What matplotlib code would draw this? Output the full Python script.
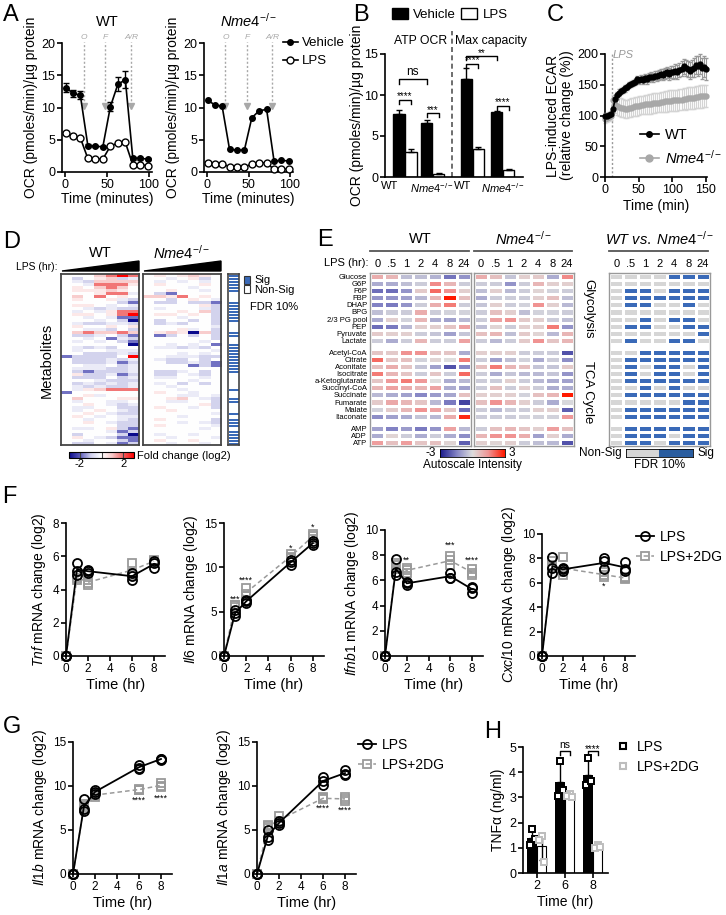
import numpy as np
import matplotlib
matplotlib.use("Agg")
import matplotlib.pyplot as plt
from matplotlib.colors import LinearSegmentedColormap, ListedColormap
from matplotlib.patches import Polygon, Rectangle, Patch
from matplotlib.lines import Line2D

plt.rcParams["font.family"] = ["Liberation Sans", "DejaVu Sans"]
plt.rcParams["mathtext.fontset"] = "custom"
plt.rcParams["mathtext.rm"] = "Liberation Sans"
plt.rcParams["mathtext.it"] = "Liberation Sans:italic"

W, H = 726, 915
KO = r"$\it{Nme4}^{-/-}$"

# ============================================================
# DATA
# ============================================================
# A: Seahorse OCR trace
ocr_time = [1, 9, 18, 27, 36, 45, 54, 63, 72, 81, 90, 99]
inject_time = [22, 48, 79]
inject_lbl = ["O", "F", "A/R"]
wt_veh = [13.1, 12.2, 11.9, 4.1, 4.0, 3.9, 10.1, 13.6, 14.3, 2.1, 2.1, 2.0]
wt_veh_err = [0.7, 0.5, 0.6, 0.2, 0.2, 0.2, 0.7, 1.1, 1.3, 0.2, 0.2, 0.1]
wt_lps = [6.0, 5.6, 5.3, 2.1, 2.0, 2.0, 4.0, 4.5, 4.6, 1.1, 1.1, 1.0]
ko_veh = [11.1, 10.4, 10.2, 3.5, 3.4, 3.4, 8.4, 9.5, 9.7, 1.7, 1.8, 1.7]
ko_lps = [1.4, 1.3, 1.3, 0.8, 0.7, 0.7, 1.3, 1.4, 1.4, 0.4, 0.5, 0.4]

# B: ATP OCR / max capacity
b_groups = ["WT", KO, "WT", KO]
b_veh = [7.7, 6.6, 12.0, 7.9]
b_veh_err = [0.5, 0.3, 1.3, 0.2]
b_lps = [3.1, 0.4, 3.4, 0.9]
b_lps_err = [0.3, 0.1, 0.3, 0.1]

# C: LPS-induced ECAR
ecar_time = np.arange(0, 151, 3)
ecar_wt = [100, 100, 101, 103, 110, 127, 133, 137, 140, 142,
           144, 146, 150, 151, 153, 155, 159, 157, 160, 158,
           161, 159, 162, 163, 162, 165, 164, 166, 168, 166,
           169, 170, 168, 171, 170, 172, 171, 174, 176, 180,
           177, 175, 173, 176, 178, 182, 180, 184, 177, 179, 176]
ecar_wt_err = [4, 4, 4, 4, 5, 6, 6, 6, 5, 5,
               5, 5, 5, 5, 5, 5, 6, 6, 6, 6,
               6, 7, 7, 7, 7, 8, 8, 8, 8, 9,
               9, 9, 10, 10, 10, 11, 11, 12, 12, 12,
               13, 13, 14, 14, 15, 15, 16, 16, 17, 17, 18]
ecar_ko = [94, 96, 97, 99, 125, 118, 116, 114, 113, 112,
           111, 111, 112, 113, 114, 115, 115, 116, 117, 117,
           118, 118, 119, 119, 120, 120, 121, 121, 122, 122,
           123, 123, 124, 124, 125, 125, 125, 126, 126, 127,
           127, 128, 128, 129, 129, 130, 130, 131, 131, 132, 132]
ecar_ko_err = [6, 6, 6, 6, 8, 14, 15, 15, 15, 15,
               15, 15, 15, 15, 15, 15, 15, 15, 15, 15,
               16, 16, 16, 16, 16, 16, 16, 16, 16, 16,
               17, 17, 17, 17, 17, 17, 17, 17, 17, 17,
               18, 18, 18, 18, 18, 18, 18, 18, 18, 18, 18]

# D: metabolite fold change heatmap (WT | Nme4), level codes
d_code = {"N": -3, "B": -1.8, "b": -0.9, "c": -0.4, ".": 0,
          "p": 0.4, "r": 0.9, "R": 1.8, "X": 3}
d_rows = [
    "...rRXR|.p.prp.", ".b.prbc|..c.pb.", ".cbrrrr|.c.c.c.", "..cRRRp|.p...p.",
    ".p.rRr.|....c..", ".ppprp.|..p..c.", "...pRRc|.bB....", ".r.R.p.|rrpR.p.",
    ".p..pcb|..b.p.c", ".....bB|.bb.bbB", ".pp.c.c|.....pb", "..cbcbb|.c...cb",
    ".c.cpRR|...p.rb", ".pp.pRX|.pp.p.b", "..c.cBB|...c..b", "...c.bN|.b..b.b",
    ".cbbccb|.bcb..b", ".p..p.p|......c", "..ccb.b|...pc.b", ".rRrrRr|.prpNrb",
    ".bbc.bB|.Bb.b.b", "..c.Bcb|......b", ".c.c.bB|.....c.", "......N|..c.c.B",
    ".cbcb..|.ccbcb.", ".c..ccc|......c", "..bbbcb|...c.c.", "Bbbbb.X|..cccbb",
    ".bbbcbc|.cbb.b.", ".bbbcBb|..bbcbB", "..cc.bc|....BbB", ".cccbbc|.......",
    ".bBbbbc|.bbc.b.", ".pbbcBb|.bb.cb.", ".bbb.bc|.cc..c.", "...cbbb|....c..",
    ".bcbcbc|.c.b.b.", ".cbcbbc|..c....", ".cprRRR|...c...", "B......|.p..c..",
    "..pc...|...cc.c", ".r...pp|..pr.cb", ".c..cc.|..cc..b", "..p.cbc|.....pb",
    ".cc..bb|.p..c.b", ".c.p.cb|..p....", "..p.cbb|......c", ".p.c.cc|...c...",
    "..c..cb|.p....b", "..p.cbb|...c.cb", ".....bb|.p....c", ".cc.pbB|.....c.",
    "....cBb|.......", ".b...bN|.c..c..", ".p.cbBB|..c...c", "..c..bB|.p..p..",
    ".bb.cBb|..c..c.",
]
d_sig = "111111000111111100011001111111111000001001100010111011111"

# E: targeted metabolites (autoscaled)
e_names = ["Glucose", "G6P", "F6P", "FBP", "DHAP", "BPG", "2/3 PG pool", "PEP",
           "Pyruvate", "Lactate",
           "Acetyl-CoA", "Citrate", "Aconitate", "Isocitrate", "a-Ketoglutarate",
           "Succinyl-CoA", "Succinate", "Fumarate", "Malate", "Itaconate",
           "AMP", "ADP", "ATP"]
e_groups = [10, 10, 3]
e_hours = ["0", ".5", "1", "2", "4", "8", "24"]
e_wt = [
    [1.0, 0.8, -0.5, -0.5, -0.7, -1.7, -1.2],
    [-0.8, -0.8, -0.5, -0.3, 1.6, 0.8, -0.3],
    [-1.8, -1.8, -1.2, 0.4, 2.0, 1.5, 0.3],
    [-1.2, -1.2, -1.0, -0.6, 0.8, 3.0, 0.6],
    [-1.5, -1.6, -1.2, -0.3, 1.0, 1.8, -0.3],
    [-0.5, -0.3, -0.3, 1.0, -0.3, -0.2, -0.2],
    [-0.8, 0.3, -0.2, 0.8, -0.8, -1.0, -0.6],
    [-1.8, -1.6, -0.6, 0.3, 0.3, 0.5, 1.2],
    [0.4, 0.3, 0.3, -0.3, -0.4, -1.0, -0.4],
    [-0.3, -0.8, -0.3, 0.8, -0.3, -0.3, 1.2],
    [0.5, 0.4, 1.5, 1.5, 0.5, 0.5, -0.8],
    [2.0, 0.5, 0.6, -0.2, 0.2, 0.0, 1.8],
    [0.6, 1.0, 0.5, -0.4, -1.0, -2.2, -1.4],
    [1.8, 0.8, 0.5, -0.3, 0.5, -0.3, 2.0],
    [0.5, 1.4, 1.8, 1.4, 0.0, -0.8, -0.6],
    [0.8, 1.2, 1.0, 0.8, 1.2, -0.8, -1.0],
    [-0.6, -0.8, -1.0, -1.4, -1.1, -0.9, 0.6],
    [0.4, 1.1, 0.8, 0.5, -0.6, -1.6, -2.4],
    [-0.2, 0.4, 0.8, 1.5, 1.2, 0.5, -1.8],
    [-1.3, -1.0, -0.8, -0.4, -0.6, 1.0, 2.8],
    [-1.0, -1.5, -1.1, -1.6, -1.2, 1.2, -0.6],
    [-0.8, 0.2, -0.3, -0.8, -0.3, -0.8, -1.3],
    [1.3, 0.6, 1.3, 0.5, 0.6, 0.2, -2.0],
]
e_ko = [
    [1.0, 0.6, -0.4, 0.3, 0.4, -0.8, 1.6],
    [-0.3, -0.3, -1.2, -0.3, 0.8, 0.3, 0.3],
    [-0.5, 0.3, -0.6, -0.3, 0.2, -0.2, -0.3],
    [-0.8, -0.3, -0.3, -0.3, 0.3, 0.6, -0.5],
    [-0.4, 0.3, -0.3, -0.2, 1.5, 0.3, -0.6],
    [-0.3, 0.6, 0.3, -0.5, -0.2, -0.2, -0.3],
    [-0.3, 1.2, 1.5, 0.4, 0.3, -0.3, -0.5],
    [-0.5, 0.2, -0.3, 0.3, 0.3, 1.8, -1.2],
    [0.6, 0.8, -0.5, 0.4, 0.2, -0.6, 0.8],
    [-0.3, -0.6, -0.3, 0.4, 1.5, 0.5, 0.8],
    [0.3, 0.3, 0.3, -0.3, -0.3, -0.3, -2.2],
    [-0.3, -1.0, -0.5, -0.2, -0.8, -0.3, -1.3],
    [0.6, 1.8, 0.8, 0.6, -0.4, -0.4, 0.4],
    [-0.3, -0.8, -0.4, -0.6, -0.6, -0.4, -1.2],
    [-0.3, -0.3, 0.3, -0.3, -0.6, -0.8, -1.0],
    [-0.3, 0.6, -0.3, 0.3, -0.3, -0.8, -0.8],
    [0.3, 0.3, 0.3, -0.2, 0.6, 0.8, 3.0],
    [0.6, 1.5, 0.8, 0.3, -0.3, -0.8, -0.1],
    [-0.3, -0.6, -0.3, -0.3, 0.3, 0.3, -2.0],
    [-0.3, -0.3, -0.3, -0.2, -0.2, -0.2, 1.4],
    [-0.3, 0.6, 0.8, 0.5, 0.3, 1.3, 0.6],
    [0.8, 1.5, 1.5, 1.0, -1.0, 0.3, -0.8],
    [0.3, 0.2, 0.3, -0.3, -0.5, -0.6, -2.2],
]
e_sig = [
    "0000111", "0000000", "0110111", "0111111", "0110010",
    "0000000", "0010110", "0110011", "0000001", "0100110",
    "0011111", "0111111", "0101101", "0101101", "0111111",
    "0010100", "0111111", "0000011", "0111111", "0111111",
    "0111111", "0111011", "0110111",
]

# F / G: qPCR, 3 replicates per time point
qt = [0, 1, 2, 6, 8]
tnf_lps = [[0, 0, 0], [5.6, 5.1, 4.9], [5.2, 5.0, 5.1], [5.0, 4.8, 4.6], [5.7, 5.6, 5.3]]
tnf_dg = [[0, 0, 0], [4.6, 4.7, 4.9], [4.6, 4.4, 4.3], [5.6, 5.0, 4.9], [5.8, 5.7, 5.6]]
il6_lps = [[0, 0, 0], [4.5, 4.8, 5.2], [6.0, 6.2, 6.3], [10.3, 10.6, 10.8], [12.5, 12.7, 13.0]]
il6_dg = [[0, 0, 0], [5.7, 5.8, 5.5], [7.7, 7.0, 6.8], [11.5, 11.2, 11.0], [13.8, 13.5, 13.2]]
ifnb_lps = [[0, 0, 0], [7.7, 6.7, 6.4], [5.9, 5.8, 5.6], [6.6, 6.2, 6.2], [5.5, 5.4, 5.0]]
ifnb_dg = [[0, 0, 0], [7.4, 7.2, 6.9], [7.0, 6.6, 6.8], [7.9, 7.6, 7.2], [6.9, 6.6, 6.4]]
cxcl_lps = [[0, 0, 0], [8.1, 7.2, 6.8], [7.2, 7.0, 7.1], [8.0, 7.8, 7.1], [7.7, 7.1, 7.0]]
cxcl_dg = [[0, 0, 0], [7.8, 7.5, 7.3], [8.1, 6.9, 6.6], [6.9, 6.6, 6.5], [6.5, 6.3, 6.4]]
il1b_lps = [[0, 0, 0], [8.5, 7.4, 7.2], [9.6, 9.3, 9.1], [12.4, 12.1, 11.9], [13.1, 13.0, 13.1]]
il1b_dg = [[0, 0, 0], [7.7, 7.5, 7.9], [8.7, 9.0, 9.2], [9.5, 9.7, 9.6], [10.3, 10.0, 9.9]]
il1a_lps = [[0, 0, 0], [5.0, 4.2, 3.9], [6.0, 5.8, 5.6], [11.0, 10.6, 10.1], [11.8, 11.4, 11.2]]
il1a_dg = [[0, 0, 0], [5.6, 5.4, 5.2], [6.6, 6.0, 5.8], [8.7, 8.6, 8.5], [8.8, 8.3, 8.5]]
il6_stars = [(1, 6.4, "***"), (2, 8.6, "****"), (6, 12.2, "*"), (8, 14.5, "*")]
ifnb_stars = [(2, 7.6, "**"), (6, 8.8, "***"), (8, 7.6, "****")]
cxcl_stars = [(6, 5.7, "*")]
il1b_stars = [(6, 8.4, "****"), (8, 8.6, "****")]
il1a_stars = [(6, 7.5, "****"), (8, 7.3, "****")]

# H: TNFa ELISA
h_time = ["2", "6", "8"]
h_lps = [[1.75, 1.1, 1.35], [4.45, 3.05, 3.3], [4.55, 3.5, 3.65]]
h_dg = [[1.45, 1.3, 0.45], [3.15, 3.05, 3.0], [1.1, 1.0, 1.05]]

# ============================================================
# FIGURE
# ============================================================
fig = plt.figure(figsize=(W / 100, H / 100), dpi=100)
ov = fig.add_axes([0, 0, 1, 1])
ov.set_xlim(0, W)
ov.set_ylim(H, 0)
ov.axis("off")


def box(l, t, r, b):
    return fig.add_axes([l / W, 1 - b / H, (r - l) / W, (b - t) / H])


def prism(ax, labelsize=9):
    for s in ["top", "right"]:
        ax.spines[s].set_visible(False)
    for s in ["left", "bottom"]:
        ax.spines[s].set_linewidth(1.2)
    ax.tick_params(width=1.2, length=3.5, labelsize=labelsize, pad=1.5)


def fig_legend(ax, handles, labels, x, y, **kw):
    opts = dict(loc="upper left", bbox_to_anchor=(x / W, 1 - y / H),
                bbox_transform=fig.transFigure, frameon=False, fontsize=10,
                handlelength=1.3, handletextpad=0.4, labelspacing=0.45,
                borderpad=0, borderaxespad=0)
    opts.update(kw)
    ax.legend(handles, labels, **opts)


for lbl, x, y in [("A", 3, 15), ("B", 353, 15), ("C", 547, 15), ("D", 3, 242),
                  ("E", 317, 240), ("F", 2, 497), ("G", 3, 727), ("H", 484, 732)]:
    ov.text(x, y, lbl, fontsize=17, ha="left", va="center")

# ---------------- A ----------------
for (l, r), veh, lps, err, title in [((62, 152), wt_veh, wt_lps, wt_veh_err, "WT"),
                                     ((204, 293), ko_veh, ko_lps, None, KO)]:
    ax = box(l, 43, r, 172)
    prism(ax)
    ax.errorbar(ocr_time, veh, yerr=err, fmt="o-", color="k", ms=4, lw=1.2,
                capsize=2.5, elinewidth=1, clip_on=False, zorder=3)
    ax.plot(ocr_time, lps, "o-", color="k", mfc="white", ms=5, lw=1.2,
            clip_on=False, zorder=3)
    for t, s in zip(inject_time, inject_lbl):
        ax.plot([t, t], [10.4, 20.2], ls=(0, (1.5, 1.5)), color="#a8a8a8", lw=1,
                clip_on=False)
        ax.plot([t], [10.2], marker="v", color="#a8a8a8", ms=5, clip_on=False)
        ax.text(t, 20.9, s, fontsize=6, color="#a8a8a8", style="italic",
                ha="center", va="center")
    ax.set_xlim(-4, 104)
    ax.set_ylim(0, 20)
    ax.set_xticks([0, 50, 100])
    ax.set_yticks([0, 5, 10, 15, 20])
    ax.set_xlabel("Time (minutes)", fontsize=10, labelpad=1)
    ax.set_ylabel("OCR (pmoles/min)/µg protein", fontsize=10, labelpad=2)
    ax.set_title(title, fontsize=10.5, pad=12)
    if title == KO:
        fig_legend(ax, [Line2D([], [], color="k", marker="o", ms=4, lw=1.2),
                        Line2D([], [], color="k", marker="o", mfc="white", ms=5, lw=1.2)],
                   ["Vehicle", "LPS"], 283, 37, fontsize=9.5, handlelength=1.1,
                   handletextpad=0.3)

# ---------------- B ----------------
ax = box(385, 54, 523, 177)
prism(ax)
gx = np.array([0, 1, 2.45, 3.55])
bw = 0.42
ax.bar(gx - 0.22, b_veh, bw, color="k", edgecolor="k", lw=1,
       yerr=[[0] * 4, b_veh_err], capsize=2.5, error_kw=dict(lw=1, capthick=1))
ax.bar(gx + 0.22, b_lps, bw, color="white", edgecolor="k", lw=1,
       yerr=[[0] * 4, b_lps_err], capsize=2.5, error_kw=dict(lw=1, capthick=1))


def bracket(ax, x1, x2, y, text, h=0.5, fs=7, dy=0.15):
    ax.plot([x1, x1, x2, x2], [y - h, y, y, y - h], color="k", lw=1, clip_on=False)
    ax.text((x1 + x2) / 2, y + dy, text, ha="center", va="bottom", fontsize=fs)


bracket(ax, gx[0] - 0.22, gx[0] + 0.22, 9.4, "****", dy=-0.2)
bracket(ax, gx[1] - 0.22, gx[1] + 0.22, 7.8, "***", dy=-0.2)
bracket(ax, gx[0] - 0.22, gx[1] - 0.22, 12.0, "ns", h=0.6, fs=8.5, dy=0.1)
bracket(ax, gx[2] - 0.22, gx[2] + 0.22, 13.8, "****", dy=-0.2)
bracket(ax, gx[2] - 0.22, gx[3] - 0.22, 14.7, "**", h=0.4, dy=-0.2)
bracket(ax, gx[3] - 0.22, gx[3] + 0.22, 8.7, "****", dy=-0.2)
ax.plot([1.71, 1.71], [0, 17.8], ls=(0, (3, 2)), color="#555", lw=1.2, clip_on=False)
ax.text(0.55, 16.6, "ATP OCR", ha="center", va="center", fontsize=8.8)
ax.text(3.12, 16.6, "Max capacity", ha="center", va="center", fontsize=8.8)
ax.set_xlim(-0.73, 4.29)
ax.set_ylim(0, 15)
# tick labels sit slightly off each group centre so that they do not collide
ax.set_xticks(gx + np.array([-0.55, -0.02, -0.35, 0.0]))
ax.set_xticklabels(b_groups, fontsize=8)
ax.tick_params(axis="x", length=0, pad=3)
ax.set_yticks([0, 5, 10, 15])
ax.set_ylabel("OCR (pmoles/min)/µg protein", fontsize=10, labelpad=0)
fig_legend(ax, [Patch(fc="k", ec="k"), Patch(fc="white", ec="k")],
           ["Vehicle", "LPS"], 392, 8, ncol=2, handlelength=1.2, handleheight=0.9,
           columnspacing=0.4, fontsize=9.5)

# ---------------- C ----------------
ax = box(605, 54, 707, 177)
prism(ax)
ax.errorbar(ecar_time, ecar_ko, yerr=ecar_ko_err, fmt="o-", color="#a8a8a8",
            ecolor="#d4d4d4", ms=3.5, lw=1.2, elinewidth=0.8, capsize=1.5,
            clip_on=False, zorder=2)
ax.errorbar(ecar_time, ecar_wt, yerr=ecar_wt_err, fmt="o-", color="k",
            ecolor="#999", ms=3.5, lw=1.2, elinewidth=0.8, capsize=1.5,
            clip_on=False, zorder=3)
ax.axvline(10, ls=(0, (1.5, 1.5)), color="#999", lw=1)
ax.text(11, 199, "LPS", fontsize=8, color="#999", style="italic", va="center")
ax.set_xlim(0, 152)
ax.set_ylim(0, 200)
ax.set_xticks([0, 50, 100, 150])
ax.set_yticks([0, 50, 100, 150, 200])
ax.set_xlabel("Time (min)", fontsize=10, labelpad=2)
ax.set_ylabel("LPS-induced ECAR\n(relative change (%))", fontsize=10,
              labelpad=2, linespacing=1.0)
fig_legend(ax, [Line2D([], [], color="k", marker="o", ms=4, lw=1.2),
                Line2D([], [], color="#a8a8a8", marker="o", ms=5, lw=1.2)],
           ["WT", KO], 640, 128, fontsize=10.5)

# ---------------- D ----------------
cmap_d = LinearSegmentedColormap.from_list(
    "fc", ["#0a0a8c", "#5a5ab8", "#cfcfec", "#ffffff", "#f8c8c8", "#f06262", "#ff0000"])
d_wt = np.array([[d_code[c] for c in r.split("|")[0]] for r in d_rows])
d_ko = np.array([[d_code[c] for c in r.split("|")[1]] for r in d_rows])
for (l, r), mat, name in [((61, 139), d_wt, "WT"), ((143, 221), d_ko, KO)]:
    ax = box(l, 274, r, 445)
    im = ax.imshow(mat, aspect="auto", cmap=cmap_d, vmin=-3, vmax=3,
                   interpolation="nearest")
    ax.set_xticks([])
    ax.set_yticks([])
    for s in ax.spines.values():
        s.set_color("#444")
        s.set_linewidth(1.3)
    ov.add_patch(Polygon([(l + 1, 271), (r, 261), (r, 271)], closed=True, color="k"))
    ov.text((l + r) / 2, 253, name, ha="center", va="center", fontsize=10.5)
ov.text(57, 267, "LPS (hr):", ha="right", va="center", fontsize=7.5)
ov.text(47, 360, "Metabolites", rotation=90, ha="center", va="center", fontsize=10.5)

ax = box(228, 274, 239, 445)
sig_vals = np.array([[int(c)] for c in d_sig])
ax.pcolormesh(sig_vals, cmap=ListedColormap(["white", "#3a6ab8"]), vmin=0, vmax=1,
              edgecolors="white", linewidth=0.4)
ax.set_ylim(len(d_sig), 0)
ax.set_xticks([])
ax.set_yticks([])
for s in ax.spines.values():
    s.set_color("#444")
    s.set_linewidth(1.2)
ov.add_patch(Rectangle((244, 276), 6, 8, fc="#3a6ab8", ec="#333", lw=0.8))
ov.add_patch(Rectangle((244, 285), 6, 8, fc="white", ec="#333", lw=0.8))
ov.text(254, 280, "Sig", fontsize=8, va="center")
ov.text(254, 290, "Non-Sig", fontsize=8, va="center")
ov.text(250, 307, "FDR 10%", fontsize=8, va="center")

cax = box(69, 452, 134, 458)
cb = fig.colorbar(im, cax=cax, orientation="horizontal")
cb.set_ticks([-2, 0, 2])
cb.set_ticklabels(["-2", "", "2"])
cb.ax.tick_params(length=0, labelsize=8, pad=1)
cb.outline.set_linewidth(0.8)
for v in [-2, 0, 2]:
    cb.ax.axvline(v, color="#444", lw=0.8)
ov.text(137, 456, "Fold change (log2)", fontsize=8, va="center")

# ---------------- E ----------------
cmap_e = LinearSegmentedColormap.from_list(
    "az", ["#1c1c8c", "#8282c4", "#dedede", "#f09494", "#ff1a00"])
cmap_sig = ListedColormap(["#d6d6d6", "#3a6ab8"])
gap = 0.7
e_total = sum(e_groups) + gap * (len(e_groups) - 1)
e_centers = []
y0 = 0
for g in e_groups:
    e_centers += list(y0 + np.arange(g) + 0.5)
    y0 += g + gap


def e_block(ax, mat, cmap, vmin, vmax):
    mat = np.asarray(mat, dtype=float)
    r0, y0 = 0, 0
    for g in e_groups:
        ax.pcolormesh(np.arange(8), y0 + np.arange(g + 1), mat[r0:r0 + g],
                      cmap=cmap, vmin=vmin, vmax=vmax, edgecolors="white", linewidth=1)
        r0 += g
        y0 += g + gap
    ax.set_xlim(0, 7)
    ax.set_ylim(e_total, 0)
    ax.xaxis.tick_top()
    ax.set_xticks(np.arange(7) + 0.5)
    ax.set_xticklabels(e_hours, fontsize=8)
    ax.tick_params(length=0, pad=3)
    ax.set_yticks([])
    for s in ax.spines.values():
        s.set_color("#999")
        s.set_linewidth(1)


e_sig_vals = [[int(c) for c in r] for r in e_sig]
for (l, r), mat, cm, lo, hi, title in [((370, 471), e_wt, cmap_e, -3, 3, "WT"),
                                       ((474, 574), e_ko, cmap_e, -3, 3, KO),
                                       ((609, 710), e_sig_vals, cmap_sig, 0, 1,
                                        r"$\it{WT\ vs.\ Nme4}^{-/-}$")]:
    ax = box(l, 273, r, 446)
    e_block(ax, mat, cm, lo, hi)
    if title == "WT":
        ax.set_yticks(e_centers)
        ax.set_yticklabels(e_names, fontsize=5.5)
        ax.tick_params(axis="y", length=0, pad=2)
    ov.text((l + r) / 2, 239, title, ha="center", va="center", fontsize=10.5)
    ov.plot([l, r - 2], [251, 251], color="#555", lw=1.3)
ov.text(369, 263, "LPS (hr):", ha="right", va="center", fontsize=8)
ov.text(588, 309, "Glycolysis", rotation=270, ha="center", va="center", fontsize=9.5)
ov.text(588, 392, "TCA Cycle", rotation=270, ha="center", va="center", fontsize=9.5)

cax = box(440, 449, 505, 457)
cax.imshow([np.linspace(-3, 3, 64)], aspect="auto", cmap=cmap_e, vmin=-3, vmax=3)
cax.set_xticks([])
cax.set_yticks([])
for s in cax.spines.values():
    s.set_linewidth(0.6)
ov.text(436, 453, "-3", ha="right", va="center", fontsize=8.5)
ov.text(509, 453, "3", ha="left", va="center", fontsize=8.5)
ov.text(472, 465, "Autoscale Intensity", ha="center", va="center", fontsize=8.5)

cax = box(626, 449, 693, 457)
cax.imshow([[0, 1]], aspect="auto", cmap=ListedColormap(["#d6d6d6", "#2a5d9f"]))
cax.set_xticks([])
cax.set_yticks([])
for s in cax.spines.values():
    s.set_linewidth(0.6)
ov.text(622, 453, "Non-Sig", ha="right", va="center", fontsize=8.5)
ov.text(697, 453, "Sig", ha="left", va="center", fontsize=8.5)
ov.text(660, 465, "FDR 10%", ha="center", va="center", fontsize=8.5)

# ---------------- F / G ----------------
lps_style = dict(ls="none", marker="o", mfc="none", mec="k", ms=6.5, mew=1.3)
dg_style = dict(ls="none", marker="s", mfc="none", mec="#9a9a9a", ms=6, mew=1.3)


def gene_panel(ax, lps, dg, ymax, ystep, gene, stars):
    prism(ax, labelsize=8.5)
    lps = np.array(lps)
    dg = np.array(dg)
    ax.plot(qt, dg.mean(axis=1), color="#9a9a9a", lw=1.1, ls=(0, (3, 2)),
            clip_on=False, zorder=2)
    for t, v in zip(qt, dg):
        ax.plot([t] * len(v), v, clip_on=False, zorder=2, **dg_style)
    ax.plot(qt, lps.mean(axis=1), color="k", lw=1.3, clip_on=False, zorder=3)
    for t, v in zip(qt, lps):
        ax.plot([t] * len(v), v, clip_on=False, zorder=3, **lps_style)
    for t, y, s in stars:
        ax.text(t, y, s, ha="center", va="center", fontsize=6.5)
    ax.set_xlim(0, 9)
    ax.set_ylim(0, ymax)
    ax.set_xticks([0, 2, 4, 6, 8])
    ax.set_yticks(np.arange(0, ymax + 0.1, ystep))
    ax.set_xlabel("Time (hr)", fontsize=10.5, labelpad=2)
    ax.set_ylabel(r"$\it{" + gene + r"}$ mRNA change (log2)", fontsize=10, labelpad=3)


leg_h = [Line2D([], [], color="k", lw=1.3, marker="o", mfc="none", ms=6.5, mew=1.3),
         Line2D([], [], color="#9a9a9a", lw=1.1, ls=(0, (3, 2)), marker="s",
                mfc="none", ms=6, mew=1.3)]

gene_panel(box(66, 523, 165, 656), tnf_lps, tnf_dg, 8, 2, "Tnf", [])
gene_panel(box(224, 523, 324, 656), il6_lps, il6_dg, 15, 5, "Il6", il6_stars)
gene_panel(box(385, 530, 483, 656), ifnb_lps, ifnb_dg, 10, 2, "Ifnb1", ifnb_stars)
ax = box(542, 534, 635, 656)
gene_panel(ax, cxcl_lps, cxcl_dg, 10, 2, "Cxcl10", cxcl_stars)
fig_legend(ax, leg_h, ["LPS", "LPS+2DG"], 636, 530)

gene_panel(box(73, 742, 172, 874), il1b_lps, il1b_dg, 15, 5, "Il1b", il1b_stars)
ax = box(257, 742, 356, 874)
gene_panel(ax, il1a_lps, il1a_dg, 15, 5, "Il1a", il1a_stars)
fig_legend(ax, leg_h, ["LPS", "LPS+2DG"], 358, 738)

# ---------------- H ----------------
ax = box(523, 747, 608, 873)
prism(ax, labelsize=9)
hx = np.arange(len(h_time))
h_lps_a = np.array(h_lps)
h_dg_a = np.array(h_dg)
lps_m, lps_sd = h_lps_a.mean(axis=1), h_lps_a.std(axis=1, ddof=1)
dg_m, dg_sd = h_dg_a.mean(axis=1), h_dg_a.std(axis=1, ddof=1)
ax.bar(hx - 0.17, lps_m, 0.34, color="k", yerr=[np.zeros(3), lps_sd], capsize=2.5,
       error_kw=dict(lw=1, capthick=1), zorder=2)
ax.bar(hx + 0.17, dg_m, 0.34, color="white", edgecolor="k", lw=0.8,
       yerr=dg_sd, capsize=2.5, error_kw=dict(lw=1, capthick=1), zorder=2)
jit = [0.0, -0.09, 0.09]
for i in hx:
    ax.plot(i - 0.17 + np.array(jit), h_lps_a[i], ls="none", marker="s", mfc="white",
            mec="k", ms=5, mew=1.4, zorder=3)
    ax.plot(i + 0.17 + np.array(jit), h_dg_a[i], ls="none", marker="s", mfc="white",
            mec="#bdbdbd", ms=5, mew=1.4, zorder=3)
bracket(ax, 1 - 0.17, 1 + 0.17, 4.85, "ns", h=0.15, fs=7.5, dy=0.02)
bracket(ax, 2 - 0.17, 2 + 0.17, 4.85, "****", h=0.15, fs=7, dy=-0.12)
ax.set_xlim(-0.5, 2.54)
ax.set_ylim(0, 5)
ax.set_xticks(hx)
ax.set_xticklabels(h_time)
ax.set_yticks(np.arange(0, 6))
ax.set_xlabel("Time (hr)", fontsize=10, labelpad=2)
ax.set_ylabel("TNFα (ng/ml)", fontsize=10, labelpad=3)
fig_legend(ax, [Line2D([], [], ls="none", marker="s", mfc="white", mec="k", ms=5, mew=1.5),
                Line2D([], [], ls="none", marker="s", mfc="white", mec="#bdbdbd", ms=5,
                       mew=1.5)],
           ["LPS", "LPS+2DG"], 615, 740, handlelength=1.2)

fig.savefig("out.png", dpi=100)
